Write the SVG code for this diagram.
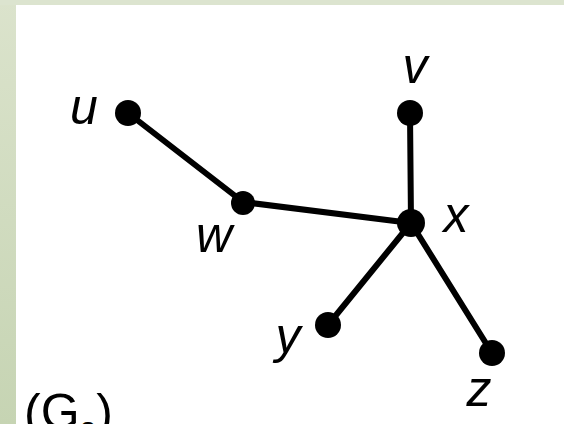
<svg xmlns="http://www.w3.org/2000/svg" width="564" height="424" viewBox="0 0 564 424">
  <defs>
    <linearGradient id="bg" x1="0" y1="0" x2="0" y2="1">
      <stop offset="0" stop-color="#dbe3cc"/>
      <stop offset="1" stop-color="#c6d4b3"/>
    </linearGradient>
    <style>
      .edge { stroke: #000; stroke-width: 6; stroke-linecap: round; fill: none; }
      .dot { fill: #000; }
      .lbl { font-family: "Liberation Sans", Arial, sans-serif; font-style: italic; font-size: 50px; fill: #000; text-anchor: middle; }
      .cap { font-family: "Liberation Sans", Arial, sans-serif; font-size: 50px; fill: #000; }
    </style>
  </defs>
  <rect x="0" y="0" width="564" height="424" fill="url(#bg)"/>
  <rect x="0" y="0" width="564" height="5" fill="#dce4cf"/>
  <rect x="16" y="5" width="548" height="419" fill="#ffffff"/>

  <g id="edges">
    <line class="edge" x1="128" y1="113" x2="243" y2="202"/>
    <line class="edge" x1="243" y1="202" x2="411" y2="223"/>
    <line class="edge" x1="410" y1="113" x2="411" y2="223"/>
    <line class="edge" x1="411" y1="223" x2="328" y2="325"/>
    <line class="edge" x1="411" y1="223" x2="492" y2="353"/>
  </g>

  <g id="node-u">
    <circle class="dot" cx="128" cy="113" r="13"/>
    <text class="lbl" x="84" y="124">u</text>
  </g>
  <g id="node-w">
    <circle class="dot" cx="243" cy="203" r="12"/>
    <text class="lbl" x="214" y="252">w</text>
  </g>
  <g id="node-v">
    <circle class="dot" cx="410" cy="113" r="13"/>
    <text class="lbl" x="415" y="83">v</text>
  </g>
  <g id="node-x">
    <circle class="dot" cx="411" cy="223" r="14"/>
    <text class="lbl" x="456" y="232">x</text>
  </g>
  <g id="node-y">
    <circle class="dot" cx="328" cy="325" r="13"/>
    <text class="lbl" x="288" y="353">y</text>
  </g>
  <g id="node-z">
    <circle class="dot" cx="492" cy="353" r="13"/>
    <text class="lbl" x="479" y="406">z</text>
  </g>

  <g id="caption">
    <text class="cap" x="24" y="429">(G<tspan font-size="30" dy="13">2</tspan><tspan dy="-13">)</tspan></text>
  </g>
</svg>
